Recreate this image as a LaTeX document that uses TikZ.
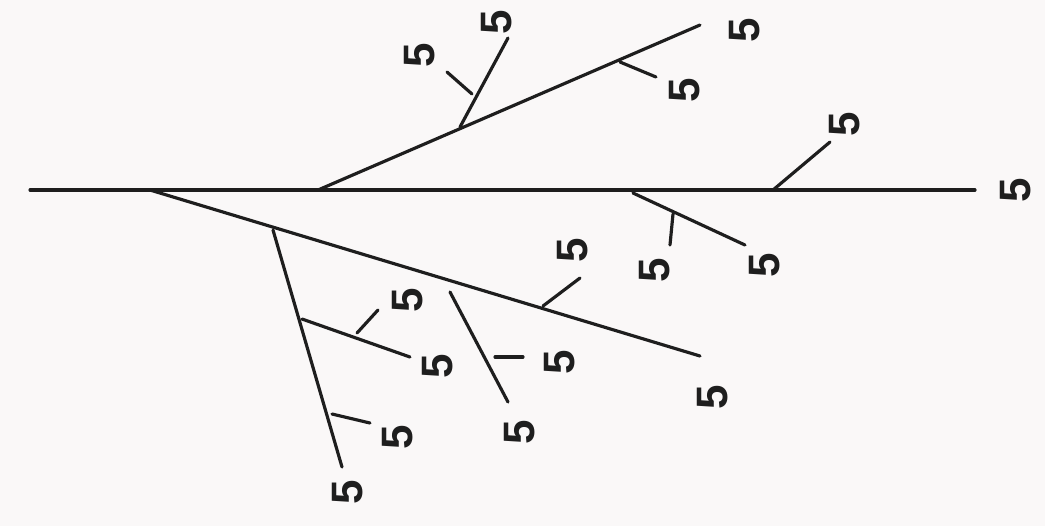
\documentclass[tikz,border=0pt]{standalone}
\usepackage{fontspec}
\setmainfont{Liberation Sans}
\definecolor{paper}{RGB}{250,248,248}
\definecolor{ink}{RGB}{30,30,30}
\usetikzlibrary{calc}
\tikzset{
  bone/.style={draw=ink, line width=0.9pt, line cap=round},
  lbl/.style={font=\fontsize{12.5}{14}\selectfont\bfseries, text=ink, rotate=90,
              inner sep=0pt},
}
\begin{document}
\begin{tikzpicture}[x=0.01cm, y=-0.01cm]
      \useasboundingbox[fill=paper] (0,0) rectangle (1045,526);
      % spine
      \coordinate (s0) at (30,190);
      \coordinate (s1) at (975,190);
      \node[lbl] (l0) at (1016,190){5};
      % upper branch
      \coordinate (u0) at (318,190);
      \coordinate (u1) at (700,25);
      \node[lbl] (lu1) at (745,30){5};
      \coordinate (ua) at (460,127);
      \coordinate (ub) at (508,38);
      \node[lbl] (lub) at (497,22){5};
      \coordinate (uc) at (472,94);
      \coordinate (ud) at (447,72);
      \node[lbl] (lud) at (420,55){5};
      \coordinate (ue) at (620,62);
      \coordinate (uf) at (656,77);
      \node[lbl] (luf) at (685,90){5};
      % spine ticks
      \coordinate (ta) at (773,190);
      \coordinate (tb) at (830,142);
      \node[lbl] (ltb) at (845,124){5};
      \coordinate (ra) at (633,193);
      \coordinate (rb) at (745,245);
      \node[lbl] (lrb) at (765,265){5};
      \coordinate (rc) at (673,214);
      \coordinate (rd) at (670,245);
      \node[lbl] (lrd) at (655,270){5};
      % lower branch
      \coordinate (b0) at (150,190);
      \coordinate (b1) at (700,356);
      \node[lbl] (lb1) at (713,397){5};
      \coordinate (ba) at (543,306);
      \coordinate (bb) at (580,278);
      \node[lbl] (lbb) at (573,250){5};
      \coordinate (bc) at (450,292);
      \coordinate (bd) at (508,402);
      \node[lbl] (lbd) at (520,432){5};
      \coordinate (be) at (495,357);
      \coordinate (bf) at (523,357);
      \node[lbl] (lbf) at (560,362){5};
      % first sub-branch
      \coordinate (c0) at (273,230);
      \coordinate (c1) at (342,467);
      \node[lbl] (lc1) at (348,492){5};
      \coordinate (ca) at (302,319);
      \coordinate (cb) at (410,357);
      \node[lbl] (lcb) at (438,366){5};
      \coordinate (cc) at (357,333);
      \coordinate (cd) at (378,310);
      \node[lbl] (lcd) at (408,300){5};
      \coordinate (ce) at (332,414);
      \coordinate (cf) at (370,423);
      \node[lbl] (lcf) at (398,437){5};
      \draw[bone] (s0)--(s1);
      \foreach \a/\b in {u0/u1,ua/ub,uc/ud,ue/uf,ta/tb,ra/rb,rc/rd,
                         b0/b1,ba/bb,bc/bd,be/bf,c0/c1,ca/cb,cc/cd,ce/cf}
        \draw[bone] (\a)--(\b);
\end{tikzpicture}
\end{document}
